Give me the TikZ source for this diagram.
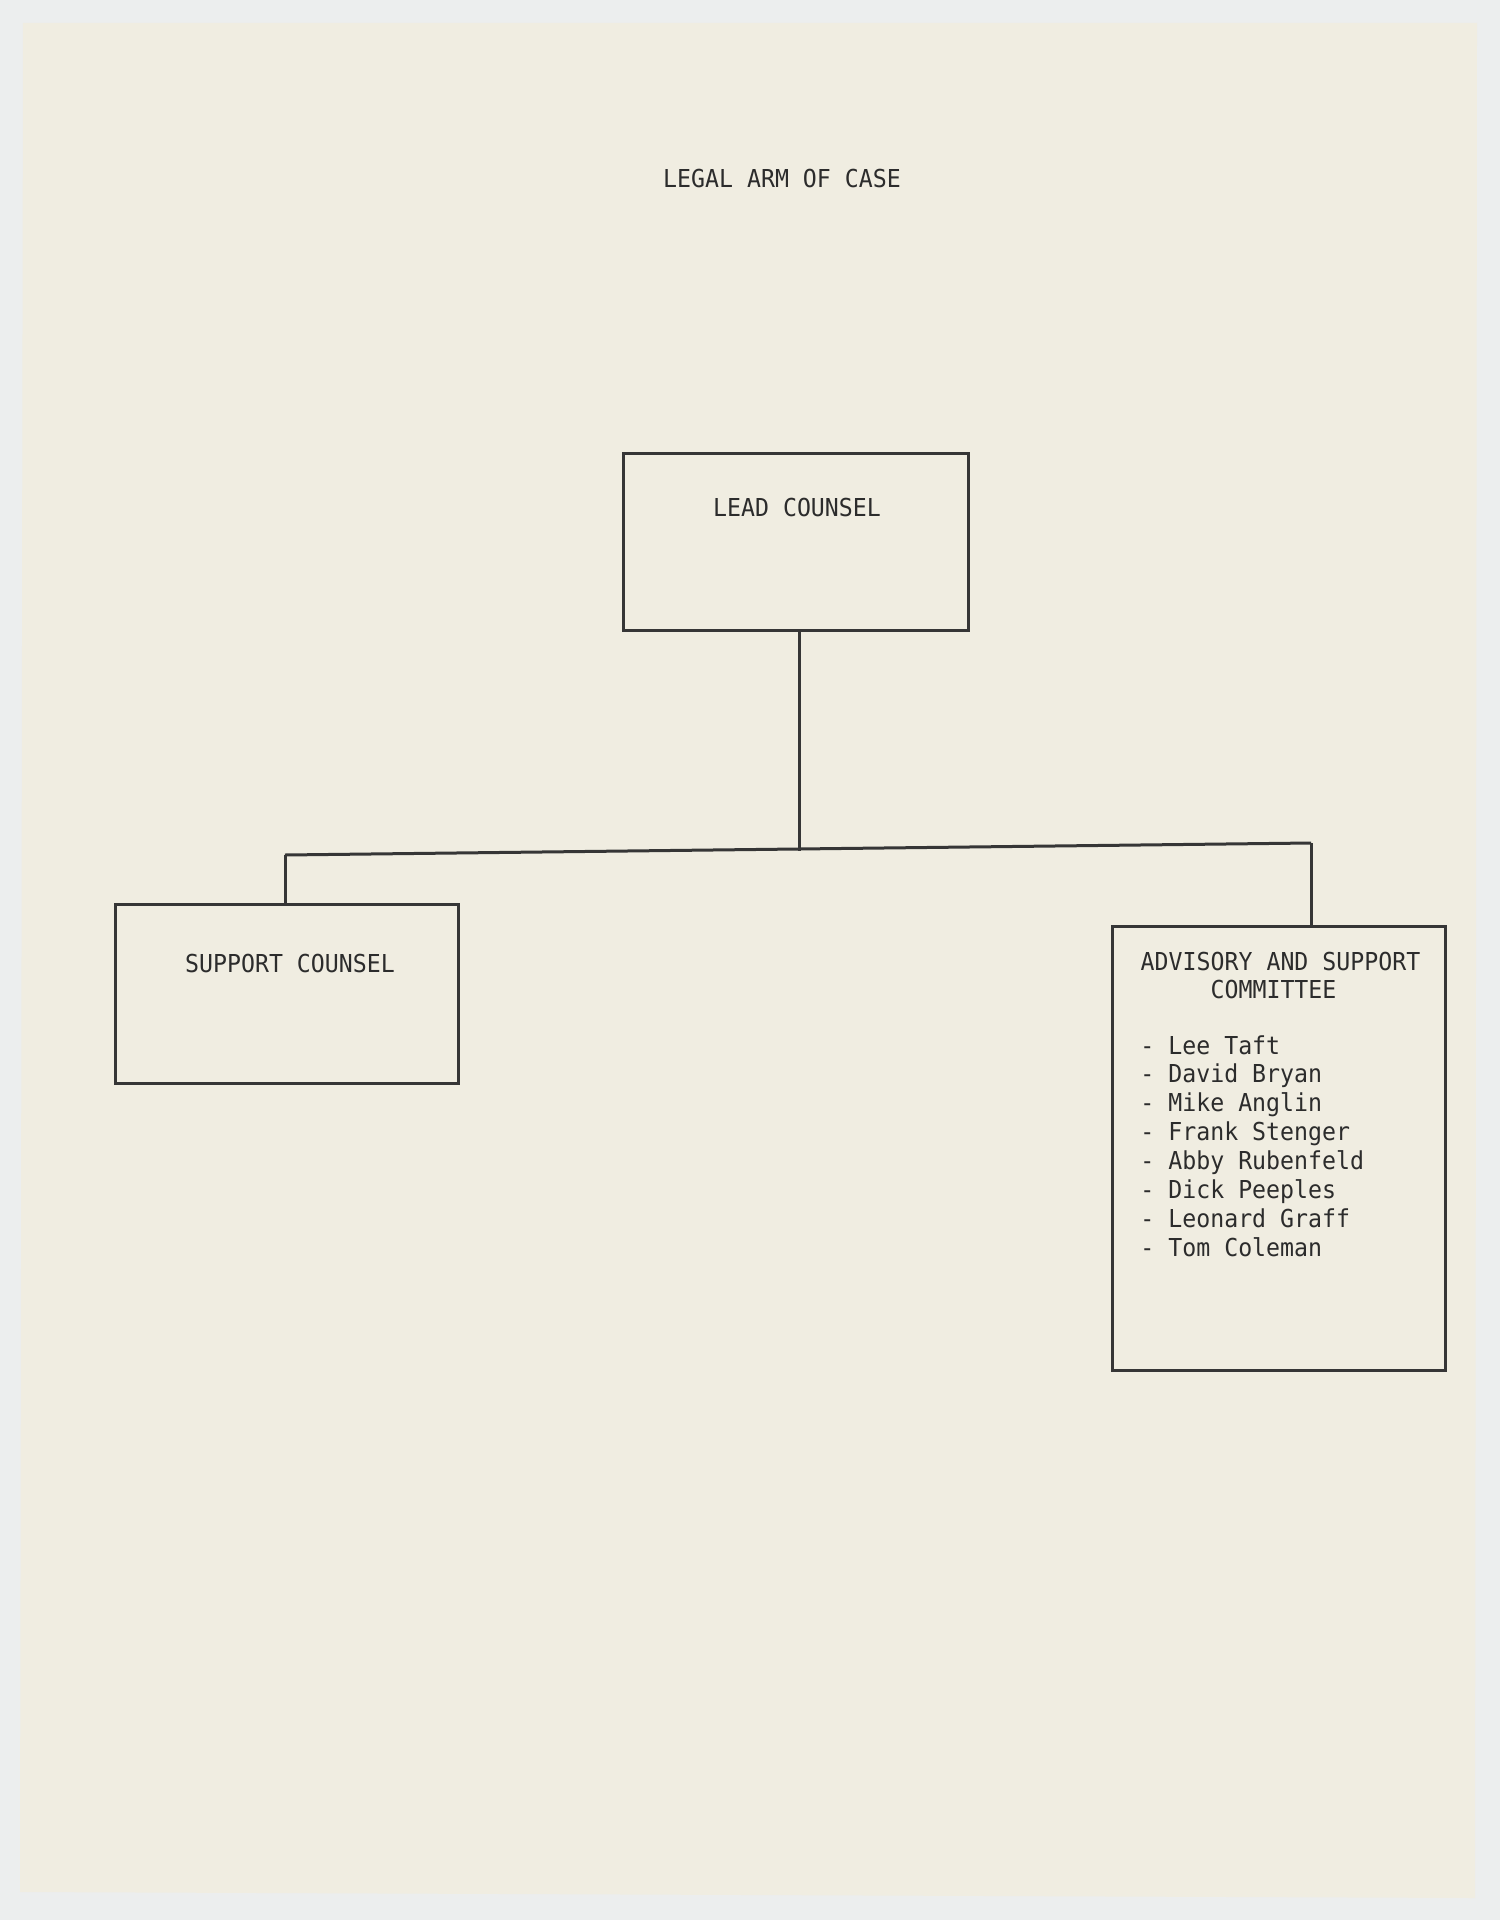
\documentclass[tikz,border=0pt]{standalone}
\usepackage{fontspec}
\newfontfamily\tw[FakeStretch=0.94]{DejaVu Sans Mono}
\definecolor{bgc}{HTML}{ECEEEE}
\definecolor{paper}{HTML}{F0EDE1}
\definecolor{ink}{HTML}{363636}
\definecolor{txt}{HTML}{2C2C2C}
\tikzset{
  box/.style={draw=ink, line width=1.5pt, rectangle, inner sep=0pt},
  conn/.style={draw=ink, line width=1.5pt},
  lbl/.style={inner sep=0pt, text=txt, font=\tw\fontsize{12.35pt}{14.4pt}\selectfont},
}
\begin{document}
\begin{tikzpicture}[x=0.5pt,y=-0.5pt]
\useasboundingbox (0,0) rectangle (1500,1920);
\fill[bgc] (0,0) rectangle (1500,1920);
\fill[paper] (23,23) -- (1477,23) -- (1475,1898) -- (20,1892) -- cycle;

% title
\node[lbl, anchor=base] (title) at (782,188) {LEGAL ARM OF CASE};

% boxes
\node[box, minimum width=172.5pt, minimum height=88.5pt] (lead) at (795.5,541.5) {};
\node[box, minimum width=171.5pt, minimum height=89.5pt] (support) at (286.5,993.5) {};
\node[box, minimum width=166.5pt, minimum height=222pt] (adv) at (1278.5,1148) {};

% box texts
\node[lbl, anchor=base] (leadt) at (797,516) {LEAD COUNSEL};
\node[lbl, anchor=base] (supt) at (290,972) {SUPPORT COUNSEL};
\node[lbl, anchor=base] (advt1) at (1280.5,970) {ADVISORY AND SUPPORT};
\node[lbl, anchor=base] (advt2) at (1273.5,998) {COMMITTEE};

\foreach \nm [count=\i from 0] in {Lee Taft, David Bryan, Mike Anglin, Frank Stenger, Abby Rubenfeld, Dick Peeples, Leonard Graff, Tom Coleman}{
  \node[lbl, anchor=base west] (m\i) at (1140,1054+28.86*\i) {- \nm};
}

% connectors
\coordinate (bar) at (799,851);
\coordinate (barL) at (285,855);
\coordinate (barR) at (1311,843);
\draw[conn] (lead.south -| bar) -- (bar);
\draw[conn] (barL) -- (barR);
\draw[conn] (barL) -- (barL |- support.north);
\draw[conn] (barR) -- (barR |- adv.north);
\end{tikzpicture}
\end{document}
